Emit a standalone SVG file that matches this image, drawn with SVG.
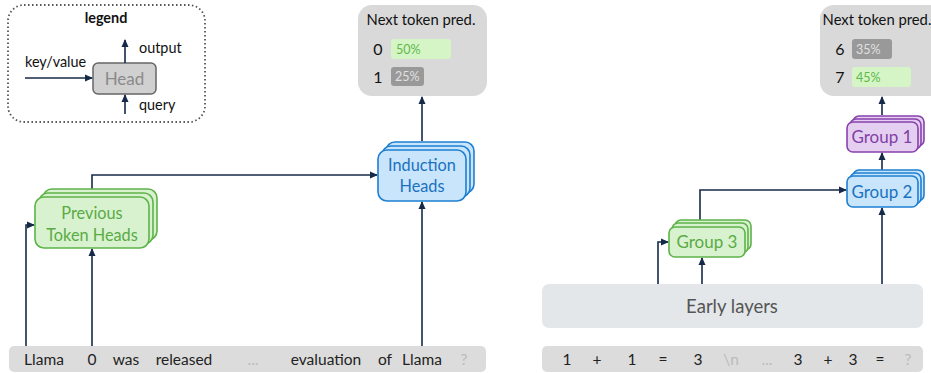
<svg xmlns="http://www.w3.org/2000/svg" width="931" height="373" viewBox="0 0 931 373">
<defs>
<marker id="ah" markerWidth="8" markerHeight="8" refX="7" refY="4" orient="auto" markerUnits="userSpaceOnUse">
<path d="M0,0.5 L8,4 L0,7.5 Z" fill="#142a48"/>
</marker>
<style>
text{font-family:Lato,"Noto Sans","Liberation Sans",sans-serif;}
.ln{fill:none;stroke:#142a48;stroke-width:1.6;}
.tok{font-size:15.5px;fill:#222;text-anchor:middle;}
.tokg{font-size:15.5px;fill:#bbb;text-anchor:middle;}
.bar{fill:#dcdcdc;}
.pred{fill:#d9d9d9;}
.gr{fill:#d8f2cf;stroke:#5db24a;stroke-width:1.6;}
.bl{fill:#c9e5fb;stroke:#1e7fd2;stroke-width:1.6;}
.pu{fill:#e5cff0;stroke:#8842ad;stroke-width:1.6;}
.grt{fill:#5aaa44;font-size:16.3px;text-anchor:middle;}
.blt{fill:#1a72bf;font-size:16.3px;text-anchor:middle;}
.put{fill:#8040a6;font-size:17px;text-anchor:middle;}
.gt{font-size:17px;text-anchor:middle;}
.lg{font-size:14.4px;fill:#111;}
.pt{font-size:14.8px;fill:#111;text-anchor:middle;}
.pn{font-size:16px;fill:#111;text-anchor:middle;}
.gbar{fill:#d6f5c6;}
.gybar{fill:#999;}
.gtx{font-size:12.5px;fill:#5cb84a;}
.gytx{font-size:12.5px;fill:#e0e0e0;}
</style>
</defs>

<g id="legend">
<rect x="8" y="5" width="197" height="117" rx="16" fill="none" stroke="#555" stroke-width="1.8" stroke-dasharray="1.5,2.5"/>
<text x="106" y="23" class="lg" text-anchor="middle" font-weight="bold">legend</text>
<rect x="93" y="63" width="63" height="31" rx="5" fill="#d0d0d0" stroke="#666" stroke-width="1.5"/>
<text x="124.5" y="85" font-size="17" fill="#8a8a8a" text-anchor="middle">Head</text>
<text x="25" y="67" class="lg">key/value</text>
<text x="139" y="53" class="lg">output</text>
<text x="139" y="110" class="lg">query</text>
<line x1="25" y1="78" x2="92" y2="78" class="ln" marker-end="url(#ah)"/>
<line x1="125" y1="63" x2="125" y2="40" class="ln" marker-end="url(#ah)"/>
<line x1="125" y1="114" x2="125" y2="95" class="ln" marker-end="url(#ah)"/>
</g>

<g id="connectors">
<polyline points="26,346 26,225 34,225" class="ln" marker-end="url(#ah)"/>
<line x1="92" y1="346" x2="92" y2="249" class="ln" marker-end="url(#ah)"/>
<polyline points="92,189 92,175 377,175" class="ln" marker-end="url(#ah)"/>
<line x1="422" y1="346" x2="422" y2="202" class="ln" marker-end="url(#ah)"/>
<line x1="422" y1="141" x2="422" y2="97" class="ln" marker-end="url(#ah)"/>
<polyline points="658,284 658,242 668,242" class="ln" marker-end="url(#ah)"/>
<line x1="702" y1="284" x2="702" y2="258" class="ln" marker-end="url(#ah)"/>
<polyline points="700,220 700,190 846,190" class="ln" marker-end="url(#ah)"/>
<line x1="882" y1="284" x2="882" y2="208" class="ln" marker-end="url(#ah)"/>
<line x1="882" y1="170" x2="882" y2="153" class="ln" marker-end="url(#ah)"/>
<line x1="882" y1="115" x2="882" y2="97" class="ln" marker-end="url(#ah)"/>
</g>

<g id="pred-left">
<rect x="358" y="5" width="129" height="91" rx="14" class="pred"/>
<text x="421" y="25" class="pt">Next token pred.</text>
<text x="378" y="55" class="pn">0</text>
<rect x="391" y="39" width="60" height="20" rx="3" class="gbar"/>
<text x="396" y="54" class="gtx">50%</text>
<text x="378" y="83" class="pn">1</text>
<rect x="391" y="67" width="33" height="19" rx="3" class="gybar"/>
<text x="395" y="81" class="gytx">25%</text>
</g>

<g id="previous-token-heads">
<rect x="43" y="189" width="114" height="51" rx="9" class="gr"/>
<rect x="39" y="193" width="114" height="51" rx="9" class="gr"/>
<rect x="35" y="197" width="114" height="51" rx="9" class="gr"/>
<text x="92" y="219" class="grt">Previous</text>
<text x="92" y="241" class="grt">Token Heads</text>
</g>

<g id="induction-heads">
<rect x="386" y="142" width="88" height="51" rx="9" class="bl"/>
<rect x="382" y="146" width="88" height="51" rx="9" class="bl"/>
<rect x="378" y="150" width="88" height="51" rx="9" class="bl"/>
<text x="422" y="171" class="blt">Induction</text>
<text x="422" y="192" class="blt">Heads</text>
</g>

<g id="tokens-left">
<rect x="9" y="346" width="477" height="26" rx="5" class="bar"/>
<text x="44" y="365" class="tok">Llama</text>
<text x="92" y="365" class="tok">0</text>
<text x="126" y="365" class="tok">was</text>
<text x="184" y="365" class="tok">released</text>
<text x="253" y="365" class="tokg">...</text>
<text x="326" y="365" class="tok">evaluation</text>
<text x="385" y="365" class="tok">of</text>
<text x="422" y="365" class="tok">Llama</text>
<text x="464" y="365" class="tokg">?</text>
</g>

<g id="pred-right">
<rect x="820" y="5" width="125" height="91" rx="14" class="pred"/>
<text x="877" y="25" class="pt">Next token pred.</text>
<text x="840" y="55" class="pn">6</text>
<rect x="852" y="39" width="40" height="20" rx="3" class="gybar"/>
<text x="856" y="54" class="gytx">35%</text>
<text x="840" y="83" class="pn">7</text>
<rect x="852" y="67" width="59" height="20" rx="3" class="gbar"/>
<text x="856" y="82" class="gtx">45%</text>
</g>

<g id="group-1">
<rect x="853" y="116" width="71" height="30" rx="6" class="pu"/>
<rect x="850" y="119" width="71" height="30" rx="6" class="pu"/>
<rect x="847" y="122" width="71" height="30" rx="6" class="pu"/>
<text x="882" y="143" class="put">Group 1</text>
</g>

<g id="group-2">
<rect x="853" y="170" width="71" height="31" rx="6" class="bl"/>
<rect x="850" y="173" width="71" height="31" rx="6" class="bl"/>
<rect x="847" y="176" width="71" height="31" rx="6" class="bl"/>
<text x="882" y="198" class="blt gt">Group 2</text>
</g>

<g id="group-3">
<rect x="675" y="220" width="76" height="30" rx="6" class="gr"/>
<rect x="672" y="223" width="76" height="30" rx="6" class="gr"/>
<rect x="669" y="227" width="76" height="30" rx="6" class="gr"/>
<text x="707" y="248" class="grt gt">Group 3</text>
</g>

<g id="early-layers">
<rect x="542" y="284" width="381" height="44" rx="7" fill="#e3e7ea"/>
<text x="732" y="313" font-size="18.5" fill="#555" text-anchor="middle">Early layers</text>
</g>

<g id="tokens-right">
<rect x="542" y="346" width="381" height="26" rx="5" class="bar"/>
<text x="567" y="365" class="tok">1</text>
<text x="597" y="365" class="tok">+</text>
<text x="632" y="365" class="tok">1</text>
<text x="663" y="365" class="tok">=</text>
<text x="698" y="365" class="tok">3</text>
<text x="731" y="365" class="tokg">\n</text>
<text x="767" y="365" class="tokg">...</text>
<text x="798" y="365" class="tok">3</text>
<text x="828" y="365" class="tok">+</text>
<text x="853" y="365" class="tok">3</text>
<text x="880" y="365" class="tok">=</text>
<text x="908" y="365" class="tokg">?</text>
</g>
</svg>
